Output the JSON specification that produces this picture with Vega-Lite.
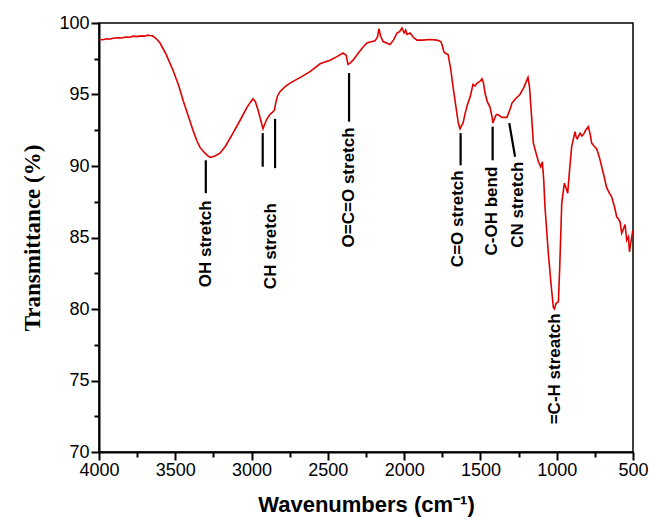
{
  "$schema": "https://vega.github.io/schema/vega-lite/v6.json",
  "width": 534,
  "height": 429,
  "autosize": {"type": "none"},
  "padding": {"left": 99, "top": 23, "right": 16, "bottom": 69},
  "background": "white",
  "config": {
    "view": {"stroke": "black", "strokeWidth": 1.5},
    "axis": {"domainColor": "black", "domainWidth": 2, "grid": false, "labelColor": "black", "titleColor": "black", "labelFlush": false, "zindex": 1}
  },
  "datasets": {
    "spectrum": [
      {"wn": 4000, "t": 98.85}, {"wn": 3975, "t": 98.83}, {"wn": 3950, "t": 98.9}, {"wn": 3925, "t": 98.88}, {"wn": 3900, "t": 98.95},
      {"wn": 3875, "t": 98.97}, {"wn": 3850, "t": 98.95}, {"wn": 3825, "t": 99.02}, {"wn": 3800, "t": 99.0}, {"wn": 3775, "t": 99.08},
      {"wn": 3750, "t": 99.05}, {"wn": 3725, "t": 99.1}, {"wn": 3700, "t": 99.08}, {"wn": 3680, "t": 99.15}, {"wn": 3666, "t": 99.12},
      {"wn": 3650, "t": 99.1}, {"wn": 3635, "t": 99.0}, {"wn": 3620, "t": 98.85}, {"wn": 3600, "t": 98.6}, {"wn": 3560, "t": 97.8},
      {"wn": 3515, "t": 96.7}, {"wn": 3480, "t": 95.7}, {"wn": 3449, "t": 94.6}, {"wn": 3415, "t": 93.5}, {"wn": 3384, "t": 92.5},
      {"wn": 3360, "t": 91.8}, {"wn": 3338, "t": 91.3}, {"wn": 3310, "t": 90.95}, {"wn": 3290, "t": 90.75}, {"wn": 3272, "t": 90.6},
      {"wn": 3240, "t": 90.7}, {"wn": 3207, "t": 90.9}, {"wn": 3170, "t": 91.4}, {"wn": 3122, "t": 92.3}, {"wn": 3075, "t": 93.2},
      {"wn": 3030, "t": 94.1}, {"wn": 3005, "t": 94.5}, {"wn": 2990, "t": 94.7}, {"wn": 2975, "t": 94.5}, {"wn": 2957, "t": 93.9},
      {"wn": 2940, "t": 93.2}, {"wn": 2925, "t": 92.6}, {"wn": 2915, "t": 92.9}, {"wn": 2899, "t": 93.3}, {"wn": 2880, "t": 93.6},
      {"wn": 2859, "t": 93.8}, {"wn": 2850, "t": 93.9}, {"wn": 2842, "t": 94.4}, {"wn": 2830, "t": 94.9}, {"wn": 2814, "t": 95.2},
      {"wn": 2780, "t": 95.55}, {"wn": 2748, "t": 95.8}, {"wn": 2680, "t": 96.2}, {"wn": 2617, "t": 96.6}, {"wn": 2551, "t": 97.15},
      {"wn": 2486, "t": 97.4}, {"wn": 2440, "t": 97.65}, {"wn": 2401, "t": 97.9}, {"wn": 2380, "t": 97.75}, {"wn": 2368, "t": 97.1},
      {"wn": 2355, "t": 97.2}, {"wn": 2335, "t": 97.4}, {"wn": 2300, "t": 97.9}, {"wn": 2270, "t": 98.3}, {"wn": 2243, "t": 98.6},
      {"wn": 2210, "t": 98.7}, {"wn": 2191, "t": 98.75}, {"wn": 2175, "t": 99.0}, {"wn": 2165, "t": 99.6}, {"wn": 2155, "t": 99.1},
      {"wn": 2138, "t": 98.7}, {"wn": 2115, "t": 98.6}, {"wn": 2093, "t": 98.5}, {"wn": 2070, "t": 98.8}, {"wn": 2047, "t": 99.3},
      {"wn": 2030, "t": 99.4}, {"wn": 2014, "t": 99.65}, {"wn": 2000, "t": 99.3}, {"wn": 1990, "t": 99.5}, {"wn": 1981, "t": 99.2},
      {"wn": 1961, "t": 99.3}, {"wn": 1940, "t": 99.0}, {"wn": 1916, "t": 98.8}, {"wn": 1880, "t": 98.8}, {"wn": 1830, "t": 98.85},
      {"wn": 1785, "t": 98.8}, {"wn": 1760, "t": 98.7}, {"wn": 1752, "t": 98.5}, {"wn": 1740, "t": 98.0}, {"wn": 1732, "t": 97.9},
      {"wn": 1712, "t": 97.8}, {"wn": 1695, "t": 96.8}, {"wn": 1679, "t": 95.5}, {"wn": 1660, "t": 94.1}, {"wn": 1645, "t": 93.0},
      {"wn": 1634, "t": 92.6}, {"wn": 1620, "t": 92.9}, {"wn": 1614, "t": 93.0}, {"wn": 1600, "t": 93.7}, {"wn": 1585, "t": 94.3},
      {"wn": 1568, "t": 94.8}, {"wn": 1549, "t": 95.7}, {"wn": 1535, "t": 95.6}, {"wn": 1522, "t": 95.8}, {"wn": 1505, "t": 95.9},
      {"wn": 1490, "t": 96.1}, {"wn": 1480, "t": 95.8}, {"wn": 1470, "t": 95.1}, {"wn": 1455, "t": 94.5}, {"wn": 1437, "t": 94.1},
      {"wn": 1425, "t": 93.5}, {"wn": 1418, "t": 93.0}, {"wn": 1405, "t": 93.4}, {"wn": 1395, "t": 93.6}, {"wn": 1385, "t": 93.6},
      {"wn": 1360, "t": 93.4}, {"wn": 1326, "t": 93.4}, {"wn": 1305, "t": 94.0}, {"wn": 1293, "t": 94.4}, {"wn": 1270, "t": 94.7},
      {"wn": 1241, "t": 95.0}, {"wn": 1215, "t": 95.5}, {"wn": 1200, "t": 95.9}, {"wn": 1188, "t": 96.2}, {"wn": 1178, "t": 95.5},
      {"wn": 1165, "t": 93.5}, {"wn": 1153, "t": 91.6}, {"wn": 1120, "t": 90.3}, {"wn": 1105, "t": 89.95}, {"wn": 1094, "t": 90.3},
      {"wn": 1085, "t": 89.0}, {"wn": 1077, "t": 87.15}, {"wn": 1055, "t": 83.9}, {"wn": 1035, "t": 81.5}, {"wn": 1022, "t": 80.1},
      {"wn": 1015, "t": 80.0}, {"wn": 1004, "t": 80.4}, {"wn": 989, "t": 80.5}, {"wn": 980, "t": 83.0}, {"wn": 967, "t": 87.4},
      {"wn": 950, "t": 88.8}, {"wn": 940, "t": 88.5}, {"wn": 928, "t": 88.1}, {"wn": 915, "t": 89.8}, {"wn": 902, "t": 91.35},
      {"wn": 880, "t": 92.4}, {"wn": 872, "t": 92.0}, {"wn": 865, "t": 91.9}, {"wn": 847, "t": 92.3}, {"wn": 835, "t": 92.1},
      {"wn": 825, "t": 92.2}, {"wn": 810, "t": 92.5}, {"wn": 793, "t": 92.75}, {"wn": 780, "t": 92.2}, {"wn": 771, "t": 91.6},
      {"wn": 755, "t": 91.4}, {"wn": 738, "t": 91.2}, {"wn": 720, "t": 90.6}, {"wn": 705, "t": 89.95}, {"wn": 690, "t": 89.3},
      {"wn": 673, "t": 88.5}, {"wn": 655, "t": 88.1}, {"wn": 640, "t": 87.85}, {"wn": 620, "t": 87.1}, {"wn": 607, "t": 86.45},
      {"wn": 595, "t": 86.3}, {"wn": 585, "t": 86.1}, {"wn": 574, "t": 85.3}, {"wn": 563, "t": 85.6}, {"wn": 552, "t": 85.9},
      {"wn": 541, "t": 84.8}, {"wn": 530, "t": 85.05}, {"wn": 523, "t": 84.0}, {"wn": 512, "t": 84.8}, {"wn": 501, "t": 85.5}
    ],
    "annotlines": [
      {"x": 3300, "y": 90.4, "x2": 3300, "y2": 88.1},
      {"x": 2927, "y": 92.3, "x2": 2927, "y2": 89.95},
      {"x": 2846, "y": 93.3, "x2": 2846, "y2": 89.85},
      {"x": 2361, "y": 96.5, "x2": 2361, "y2": 93.1},
      {"x": 1630, "y": 92.3, "x2": 1630, "y2": 90.05},
      {"x": 1420, "y": 92.75, "x2": 1420, "y2": 90.4},
      {"x": 1311, "y": 93.0, "x2": 1273, "y2": 90.65}
    ],
    "annotlabels": [
      {"x": 3299, "y": 87.6, "label": "OH stretch"},
      {"x": 2873, "y": 87.4, "label": "CH stretch"},
      {"x": 2361, "y": 92.7, "label": "O=C=O stretch"},
      {"x": 1645, "y": 89.7, "label": "C=O stretch"},
      {"x": 1427, "y": 89.95, "label": "C-OH bend"},
      {"x": 1252, "y": 90.3, "label": "CN stretch"},
      {"x": 1008, "y": 79.7, "label": "=C-H streatch"}
    ]
  },
  "resolve": {"axis": {"x": "independent", "y": "independent"}},
  "layer": [
    {
      "data": {"name": "spectrum"},
      "mark": {"type": "line", "color": "#e00000", "strokeWidth": 1.6, "clip": true},
      "encoding": {
        "x": {
          "field": "wn", "type": "quantitative",
          "scale": {"domain": [4000, 500], "nice": false, "zero": false},
          "axis": {
            "orient": "bottom",
            "values": [4000, 3500, 3000, 2500, 2000, 1500, 1000, 500],
            "format": "d",
            "ticks": true, "tickSize": 8, "tickColor": "black", "tickWidth": 2,
            "labelFont": "Liberation Sans", "labelFontSize": 18, "labelPadding": 1,
            "title": "Wavenumbers (cm⁻¹)",
            "titleFont": "Liberation Sans", "titleFontSize": 22, "titleFontWeight": "bold", "titlePadding": 15
          }
        },
        "y": {
          "field": "t", "type": "quantitative",
          "scale": {"domain": [70, 100], "nice": false, "zero": false},
          "axis": {
            "orient": "left",
            "values": [70, 75, 80, 85, 90, 95, 100],
            "ticks": true, "tickSize": 8, "tickColor": "black", "tickWidth": 2,
            "labelFont": "Liberation Sans", "labelFontSize": 18, "labelPadding": 2,
            "title": "Transmittance (%)",
            "titleFont": "Liberation Serif", "titleFontSize": 23, "titleFontWeight": "bold", "titlePadding": 14
          }
        }
      }
    },
    {
      "data": {"name": "annotlines"},
      "mark": {"type": "rule", "color": "black", "strokeWidth": 2.2},
      "encoding": {
        "x": {
          "field": "x", "type": "quantitative",
          "axis": {"orient": "bottom", "values": [3750, 3250, 2750, 2250, 1750, 1250, 750], "ticks": true, "tickSize": 5, "tickColor": "black", "tickWidth": 2, "labels": false, "domain": false, "title": null}
        },
        "y": {
          "field": "y", "type": "quantitative",
          "axis": {"orient": "left", "values": [72.5, 77.5, 82.5, 87.5, 92.5, 97.5], "ticks": true, "tickSize": 5, "tickColor": "black", "tickWidth": 2, "labels": false, "domain": false, "title": null}
        },
        "x2": {"field": "x2"},
        "y2": {"field": "y2"}
      }
    },
    {
      "data": {"name": "annotlabels"},
      "mark": {"type": "text", "angle": 270, "align": "right", "baseline": "middle", "font": "Liberation Sans", "fontSize": 17, "fontWeight": "bold", "color": "black"},
      "encoding": {
        "x": {"field": "x", "type": "quantitative", "axis": null},
        "y": {"field": "y", "type": "quantitative", "axis": null},
        "text": {"field": "label"}
      }
    }
  ]
}
